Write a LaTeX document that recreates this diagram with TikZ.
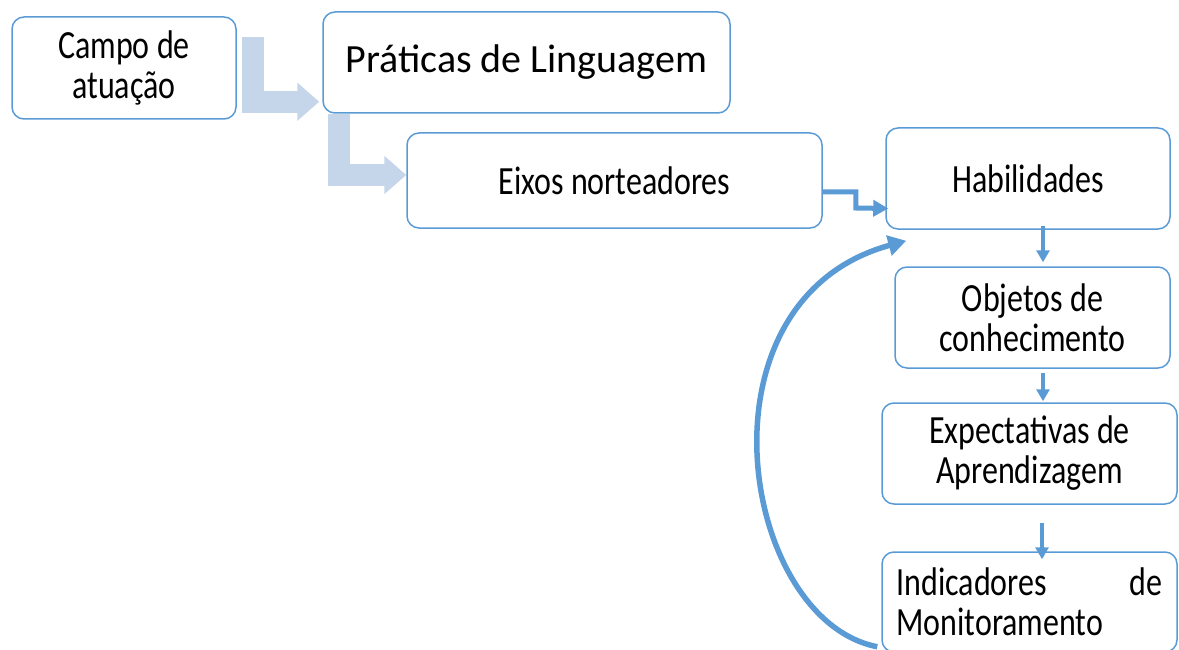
\documentclass[tikz,border=0pt]{standalone}
\usepackage{fontspec}
\setmainfont{Carlito}
\newfontfamily\tallfont[FakeStretch=0.8]{Carlito}
\usetikzlibrary{arrows.meta}
\definecolor{accent}{HTML}{5B9BD5}
\definecolor{lightarr}{HTML}{C5D5EA}
\tikzset{
  box/.style={draw=accent, line width=1.5pt, rounded corners=12pt, fill=white,
    inner sep=0pt, align=center, font=\tallfont\fontsize{40}{40}\selectfont},
  bigarrow/.style={draw=lightarr, line width=22pt, line join=miter,
    -{Triangle[length=22pt,width=37pt]}},
  darr/.style={draw=accent, line width=4pt, -{Triangle[length=12pt,width=13pt]}},
  zarr/.style={draw=accent, line width=5pt, line join=miter, -{Triangle[length=15pt,width=16pt]}},
  carr/.style={draw=accent, line width=5.5pt, -{Triangle[length=18pt,width=20pt]}}
}
\begin{document}
\begin{tikzpicture}[x=1pt,y=-1pt]
\useasboundingbox (0,0) rectangle (1179,650);
% boxes
\node[box, minimum width=224pt, minimum height=102pt] (campo) at (124,68) {Campo de\\atuação};
\node[box, minimum width=407pt, minimum height=101pt, font=\rmfamily\fontsize{40}{48}\selectfont] (prat) at (526.5,62.5) {Práticas de Linguagem};
\node[box, minimum width=415pt, minimum height=95pt] (eixos) at (614.5,180.5) {Eixos norteadores};
\node[box, minimum width=284pt, minimum height=101pt] (hab) at (1028,178.5) {Habilidades};
\node[box, minimum width=275pt, minimum height=101pt] (obj) at (1032.5,317.5) {Objetos de\\conhecimento};
\node[box, minimum width=295pt, minimum height=101pt] (exp) at (1029.5,453.5) {Expectativas de\\Aprendizagem};
\node[box, minimum width=295pt, minimum height=100pt, text width=266pt, align=left] (ind) at (1029.5,602) {Indicadores \hfill de\\Monitoramento};
% light L-arrows
\draw[bigarrow] ([xshift=16pt,yshift=-21pt]campo.north east) |- ([xshift=-3pt,yshift=12pt]prat.south west);
\draw[bigarrow] ([xshift=17pt]prat.south west) |- ([yshift=5.5pt]eixos.west);
% dark connectors
\draw[zarr] ([yshift=-11.5pt]eixos.east) -- ++(33pt,0) -- ++(0,-16pt) -- ([xshift=3pt,yshift=-30pt]hab.west);
\draw[darr] ([xshift=15pt,yshift=4pt]hab.south) -- ([xshift=10.5pt,yshift=4pt]obj.north);
\draw[darr] ([xshift=10.5pt,yshift=-4pt]obj.south) -- ([xshift=13.5pt,yshift=1pt]exp.north);
\draw[darr] ([xshift=12.5pt,yshift=-18pt]exp.south) -- ([xshift=12.5pt,yshift=-8pt]ind.north);
\draw[carr] ([xshift=-4pt,yshift=6pt]ind.south west) .. controls (740,620) and (690,300) .. ([xshift=21pt,yshift=-11pt]hab.south west);
\end{tikzpicture}
\end{document}
